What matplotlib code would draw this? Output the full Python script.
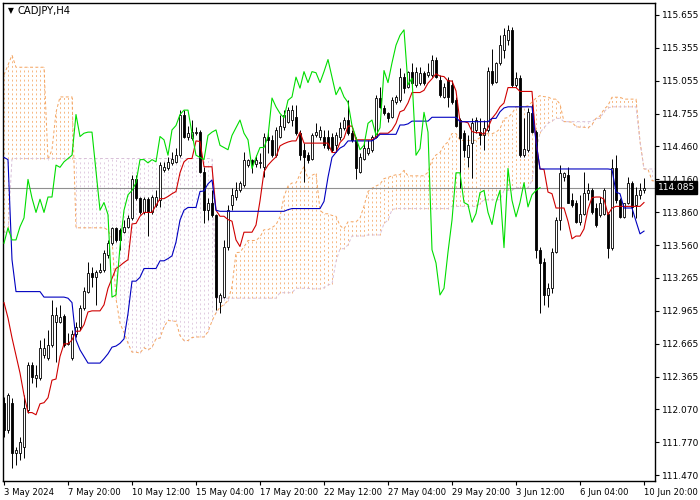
import numpy as np
import matplotlib
matplotlib.use("Agg")
import matplotlib.pyplot as plt

symbol = "CADJPY,H4"

# H4 bars, 3 May 2024 00:00 .. 10 Jun 2024 20:00
opens = [
    112.13, 111.88, 112.13, 111.67, 111.67, 111.73, 112.06, 112.47, 112.35, 112.35,
    112.56, 112.54, 112.65, 112.86, 112.86, 112.92, 112.66, 112.54, 112.75, 112.82,
    112.99, 113.14, 113.31, 113.27, 113.32, 113.34, 113.47, 113.58, 113.72, 113.70,
    113.68, 113.73, 113.81, 114.16, 113.99, 113.86, 113.98, 113.86, 113.93, 113.97,
    114.25, 114.26, 114.31, 114.32, 114.38, 114.75, 114.55, 114.54, 114.58, 114.59,
    114.23, 113.88, 113.95, 113.84, 113.05, 113.09, 113.55, 113.93, 114.00, 114.06,
    114.11, 114.29, 114.34, 114.30, 114.31, 114.27, 114.55, 114.52, 114.38, 114.55,
    114.64, 114.68, 114.70, 114.73, 114.58, 114.43, 114.38, 114.35, 114.56, 114.55,
    114.55, 114.55, 114.55, 114.47, 114.55, 114.63, 114.70, 114.58, 114.52, 114.23,
    114.35, 114.40, 114.43, 114.55, 114.90, 114.81, 114.76, 114.73, 114.86, 114.88,
    115.09, 115.00, 115.14, 115.02, 115.04, 115.13, 115.11, 115.11, 115.25, 115.06,
    114.91, 115.06, 115.02, 114.88, 114.70, 114.58, 114.36, 114.49, 114.61, 114.59,
    114.56, 114.61, 115.15, 115.05, 115.22, 115.34, 115.43, 115.52, 115.02, 115.08,
    114.38, 114.43, 114.76, 114.59, 113.52, 113.41, 113.11, 113.17, 113.50, 113.79,
    114.18, 114.20, 113.97, 113.95, 113.77, 113.85, 114.04, 114.06, 113.90, 113.84,
    113.85, 113.85, 113.54, 114.26, 113.97, 113.82, 113.95, 114.13, 113.93, 114.02,
    114.06]
highs = [
    112.18, 112.22, 112.17, 111.73, 111.82, 112.20, 112.50, 112.50, 112.47, 112.70,
    112.72, 112.79, 113.06, 113.00, 113.02, 112.94, 112.76, 112.79, 112.86, 113.02,
    113.18, 113.41, 113.36, 113.34, 113.40, 113.52, 113.61, 113.73, 113.73, 113.72,
    113.79, 113.84, 114.20, 114.20, 114.00, 114.00, 114.00, 114.02, 114.06, 114.32,
    114.32, 114.36, 114.41, 114.45, 114.79, 114.79, 114.65, 114.70, 114.64, 114.61,
    114.27, 113.99, 114.06, 113.85, 113.13, 113.61, 113.93, 114.08, 114.14, 114.15,
    114.41, 114.35, 114.35, 114.38, 114.40, 114.58, 114.61, 114.56, 114.64, 114.75,
    114.79, 114.82, 114.84, 114.84, 114.61, 114.49, 114.41, 114.58, 114.67, 114.65,
    114.61, 114.61, 114.58, 114.59, 114.68, 114.73, 114.88, 114.61, 114.55, 114.40,
    114.49, 114.52, 114.56, 114.93, 115.00, 114.84, 114.77, 114.91, 114.93, 115.17,
    115.13, 115.15, 115.22, 115.18, 115.18, 115.15, 115.22, 115.29, 115.27, 115.11,
    115.04, 115.09, 115.06, 114.91, 114.72, 114.61, 114.56, 114.72, 114.73, 114.72,
    114.70, 115.18, 115.35, 115.23, 115.47, 115.54, 115.56, 115.55, 115.14, 115.11,
    114.72, 114.81, 114.85, 114.61, 113.55, 113.45, 113.22, 113.54, 113.82, 114.29,
    114.23, 114.27, 114.04, 113.97, 114.02, 114.23, 114.13, 114.08, 113.95, 114.00,
    114.08, 113.86, 114.35, 114.38, 113.99, 113.95, 114.18, 114.15, 114.09, 114.13,
    114.17]
lows = [
    111.82, 111.85, 111.54, 111.56, 111.61, 111.63, 112.04, 112.31, 112.27, 112.34,
    112.54, 112.52, 112.64, 112.50, 112.85, 112.64, 112.65, 112.52, 112.73, 112.79,
    112.97, 113.13, 113.18, 113.02, 113.31, 113.32, 113.45, 113.56, 113.59, 113.52,
    113.67, 113.72, 113.79, 113.97, 113.85, 113.85, 113.65, 113.85, 113.91, 113.91,
    114.23, 114.25, 114.29, 114.31, 114.36, 114.54, 114.52, 114.52, 114.56, 114.22,
    113.76, 113.79, 113.82, 112.97, 112.95, 113.08, 113.52, 113.88, 113.97, 114.05,
    114.09, 114.27, 114.22, 114.27, 114.26, 114.18, 114.40, 114.36, 114.36, 114.54,
    114.61, 114.67, 114.65, 114.56, 114.34, 114.14, 114.31, 114.34, 114.55, 114.52,
    114.45, 114.43, 114.41, 114.41, 114.52, 114.61, 114.56, 114.50, 114.16, 114.22,
    114.34, 114.38, 114.41, 114.54, 114.81, 114.75, 114.68, 114.72, 114.85, 114.86,
    114.95, 114.99, 115.02, 115.00, 115.02, 115.02, 115.09, 115.09, 115.08, 114.91,
    114.90, 114.82, 114.85, 114.64, 114.08, 114.36, 114.27, 114.17, 114.58, 114.47,
    114.43, 114.59, 115.02, 115.04, 115.20, 115.26, 115.38, 115.00, 115.00, 114.36,
    114.36, 114.41, 114.58, 113.45, 112.95, 113.02, 113.00, 113.13, 113.49, 113.70,
    114.15, 113.95, 113.91, 113.76, 113.75, 113.84, 113.97, 113.85, 113.73, 113.82,
    113.84, 113.45, 113.52, 113.95, 113.81, 113.81, 113.94, 113.82, 113.81, 113.98,
    114.04]
closes = [
    111.88, 112.20, 111.67, 111.70, 111.77, 112.08, 112.47, 112.36, 112.38, 112.63,
    112.63, 112.65, 112.93, 112.93, 112.91, 112.65, 112.67, 112.75, 112.82, 112.99,
    113.15, 113.31, 113.27, 113.32, 113.34, 113.49, 113.58, 113.72, 113.61, 113.61,
    113.73, 113.81, 114.16, 113.99, 113.86, 113.98, 113.86, 114.00, 114.00, 114.29,
    114.27, 114.32, 114.35, 114.38, 114.75, 114.55, 114.58, 114.59, 114.59, 114.23,
    113.88, 113.95, 113.84, 113.09, 113.11, 113.55, 113.88, 114.02, 114.06, 114.13,
    114.34, 114.34, 114.31, 114.34, 114.32, 114.55, 114.52, 114.38, 114.61, 114.65,
    114.75, 114.79, 114.79, 114.58, 114.38, 114.36, 114.34, 114.56, 114.59, 114.61,
    114.47, 114.45, 114.43, 114.56, 114.63, 114.70, 114.58, 114.52, 114.26, 114.36,
    114.45, 114.45, 114.55, 114.90, 114.82, 114.76, 114.72, 114.88, 114.91, 115.09,
    114.99, 115.14, 115.04, 115.14, 115.13, 115.04, 115.14, 115.25, 115.09, 114.93,
    115.00, 114.91, 114.86, 114.65, 114.54, 114.43, 114.47, 114.67, 114.70, 114.56,
    114.63, 115.15, 115.04, 115.22, 115.38, 115.47, 115.52, 115.02, 115.08, 114.38,
    114.44, 114.77, 114.59, 113.52, 113.40, 113.11, 113.17, 113.50, 113.79, 114.22,
    114.22, 113.95, 113.93, 113.77, 113.85, 114.04, 114.06, 113.86, 113.75, 113.95,
    114.06, 113.54, 114.26, 113.97, 113.82, 113.95, 114.13, 113.91, 114.02, 114.06,
    114.085]

# Ichimoku values on the first bars, where the history behind them is off the chart
tenkan_head = [113.04, 112.90, 112.72, 112.56, 112.40, 112.20, 112.04, 112.04]
kijun_head = [114.36, 114.34, 113.43, 113.14, 113.14, 113.14, 113.14, 113.14, 113.14, 113.14,
              113.09, 113.09, 113.09, 113.09, 113.09, 113.09, 113.08, 113.04, 112.70, 112.61,
              112.55, 112.49, 112.49, 112.49, 112.49]
span_a_head = [115.11, 115.20, 115.29, 115.18, 115.18, 115.18, 115.18, 115.18, 115.18, 115.18,
               115.18, 114.34, 114.43, 114.77, 114.91, 114.91, 114.91, 114.91, 113.72, 113.72,
               113.72, 113.72, 113.72, 113.72, 113.72, 113.72]
span_b_head = [113.68, 113.68] + [114.35] * 51 + [113.08] * 16 + [113.13] * 4 + [113.17] * 4

date_ticks = [0, 16, 32, 48, 64, 80, 96, 112, 128, 144, 160]
date_labels = ["3 May 2024", "7 May 20:00", "10 May 12:00", "15 May 04:00", "17 May 20:00",
               "22 May 12:00", "27 May 04:00", "29 May 20:00", "3 Jun 12:00", "6 Jun 04:00",
               "10 Jun 20:00"]
price_ticks = [115.655, 115.355, 115.055, 114.755, 114.460, 114.160, 113.860, 113.560,
               113.265, 112.965, 112.665, 112.365, 112.070, 111.770, 111.470]
last_price = 114.085

# --- Ichimoku (9, 26, 52) ---
h = np.array(highs)
l = np.array(lows)
o = np.array(opens)
c = np.array(closes)
n = len(c)


def midpoint(period, i):
    return (h[i - period + 1:i + 1].max() + l[i - period + 1:i + 1].min()) / 2


tenkan = np.array(tenkan_head + [midpoint(9, i) for i in range(len(tenkan_head), n)])
kijun = np.array(kijun_head + [midpoint(26, i) for i in range(len(kijun_head), n)])
span_a = np.array(span_a_head + [(tenkan[i - 26] + kijun[i - 26]) / 2
                                 for i in range(len(span_a_head), n + 26)])
span_b = np.array(span_b_head + [midpoint(52, i - 26) for i in range(len(span_b_head), n + 26)])
chikou = c[26:]

fig = plt.figure(figsize=(7, 5), dpi=100)
ax = fig.add_axes([3 / 700, 19 / 500, 652 / 700, 478 / 500])

# cloud: dotted vertical lines per bar, like MT4's histogram
xs = np.arange(n + 26)
cloud_cols = np.where(span_a >= span_b, "#f4a460", "#d8bfd8")
ax.vlines(xs, np.minimum(span_a, span_b), np.maximum(span_a, span_b), colors=cloud_cols,
          linestyles=(0, (2.5, 3.5)), linewidth=0.55, zorder=1)
ax.plot(xs, span_a, color="#f4a460", lw=0.7, ls=(0, (3, 2.5)), zorder=1.2)
ax.plot(xs, span_b, color="#d8bfd8", lw=0.7, ls=(0, (3, 2.5)), zorder=1.2)

ax.axhline(last_price, color="#909090", lw=0.8, zorder=1.5)

# candles
bars = np.arange(n)
ax.vlines(bars, l, h, color="black", lw=0.7, zorder=3)
up = c >= o
ax.bar(bars[up], (c - o)[up], bottom=o[up], width=0.7, color="white",
       edgecolor="black", linewidth=0.6, zorder=4)
ax.bar(bars[~up], (c - o)[~up], bottom=o[~up], width=0.7, color="black",
       edgecolor="black", linewidth=0.6, zorder=4)

ax.plot(bars, tenkan, color="#d00000", lw=0.8, zorder=5)
ax.plot(bars, kijun, color="#0000c0", lw=0.8, zorder=5)
ax.plot(np.arange(len(chikou)), chikou, color="#00dd00", lw=0.8, zorder=5)

ax.set_xlim(-0.25, 162.75)
ax.set_ylim(111.418, 115.764)

ax.yaxis.tick_right()
ax.set_yticks(price_ticks)
ax.set_yticklabels([f"{v:.3f}" for v in price_ticks])
ax.set_xticks(date_ticks)
ax.set_xticklabels(date_labels)
for lab in ax.get_xticklabels():
    lab.set_horizontalalignment("left")
ax.tick_params(axis="both", direction="out", length=3, width=0.8, pad=2)
ax.tick_params(axis="y", labelsize=6.5)
ax.tick_params(axis="x", labelsize=6.1)
for sp in ax.spines.values():
    sp.set_linewidth(1)

ax.annotate(f"{last_price:.3f}", xy=(1.0, last_price), xycoords=("axes fraction", "data"),
            xytext=(2, 0), textcoords="offset points", ha="left", va="center",
            fontsize=6.5, color="white", zorder=10,
            bbox=dict(boxstyle="square,pad=0.2", fc="black", ec="black"))

fig.text(8 / 700, 1 - 11 / 500, "\u25bc", fontsize=5.5, va="center")
fig.text(18 / 700, 1 - 11 / 500, symbol, fontsize=7.2, va="center")

fig.savefig("out.png", dpi=100)
